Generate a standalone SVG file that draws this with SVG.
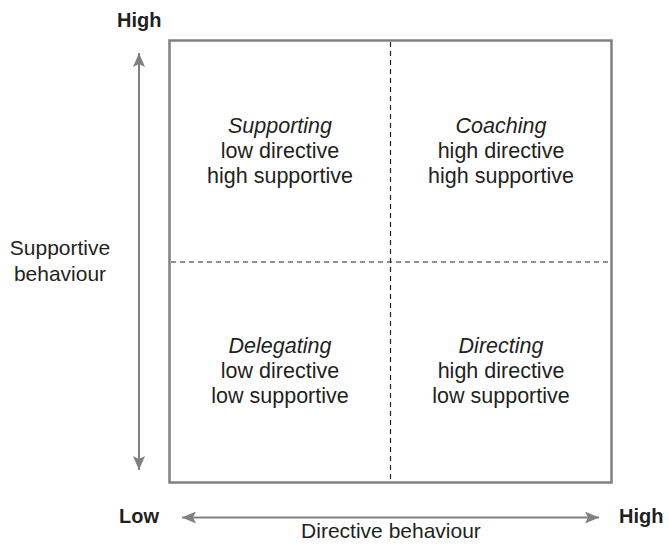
<svg xmlns="http://www.w3.org/2000/svg" width="669" height="544" viewBox="0 0 669 544">
  <style>
    .frame { fill: none; stroke: #808080; stroke-width: 2.5; }
    .divider { stroke: #222; stroke-width: 1.2; stroke-dasharray: 5 4; fill: none; }
    .axis { stroke: #808080; stroke-width: 2; fill: none; }
    text { font-family: "Liberation Sans", Arial, sans-serif; fill: #231f20; }
    .q { font-size: 21.5px; text-anchor: middle; }
    .title { font-style: italic; }
    .end { font-size: 20px; font-weight: bold; }
    .label { font-size: 21px; text-anchor: middle; }
  </style>
  <defs>
    <marker id="head" viewBox="0 0 14 12" refX="14" refY="6" markerWidth="14" markerHeight="12" markerUnits="userSpaceOnUse" orient="auto-start-reverse">
      <path d="M0,0 L14,6 L0,12 L3,6 Z" fill="#808080"/>
    </marker>
  </defs>

  <!-- grid frame and quadrant dividers -->
  <g id="grid">
    <rect class="frame" x="169.5" y="40.5" width="442" height="442"/>
    <line class="divider" x1="390.5" y1="42" x2="390.5" y2="481"/>
    <line class="divider" x1="171" y1="262" x2="610" y2="262"/>
  </g>

  <!-- axes -->
  <g id="connectors">
    <line class="axis" x1="139" y1="53" x2="139" y2="470" marker-start="url(#head)" marker-end="url(#head)"/>
    <line class="axis" x1="182" y1="517.5" x2="599" y2="517.5" marker-start="url(#head)" marker-end="url(#head)"/>
  </g>

  <g id="supporting">
    <text class="q title" x="280" y="133">Supporting</text>
    <text class="q" x="280" y="158">low directive</text>
    <text class="q" x="280" y="183">high supportive</text>
  </g>
  <g id="coaching">
    <text class="q title" x="501" y="133">Coaching</text>
    <text class="q" x="501" y="158">high directive</text>
    <text class="q" x="501" y="183">high supportive</text>
  </g>
  <g id="delegating">
    <text class="q title" x="280" y="353">Delegating</text>
    <text class="q" x="280" y="378">low directive</text>
    <text class="q" x="280" y="403">low supportive</text>
  </g>
  <g id="directing">
    <text class="q title" x="501" y="353">Directing</text>
    <text class="q" x="501" y="378">high directive</text>
    <text class="q" x="501" y="403">low supportive</text>
  </g>

  <g id="axis-labels">
    <text class="end" x="117" y="27">High</text>
    <text class="end" x="119" y="523">Low</text>
    <text class="end" x="619" y="523">High</text>
    <text class="label" x="60" y="255">Supportive</text>
    <text class="label" x="60" y="281">behaviour</text>
    <text class="label" x="391" y="538">Directive behaviour</text>
  </g>
</svg>
